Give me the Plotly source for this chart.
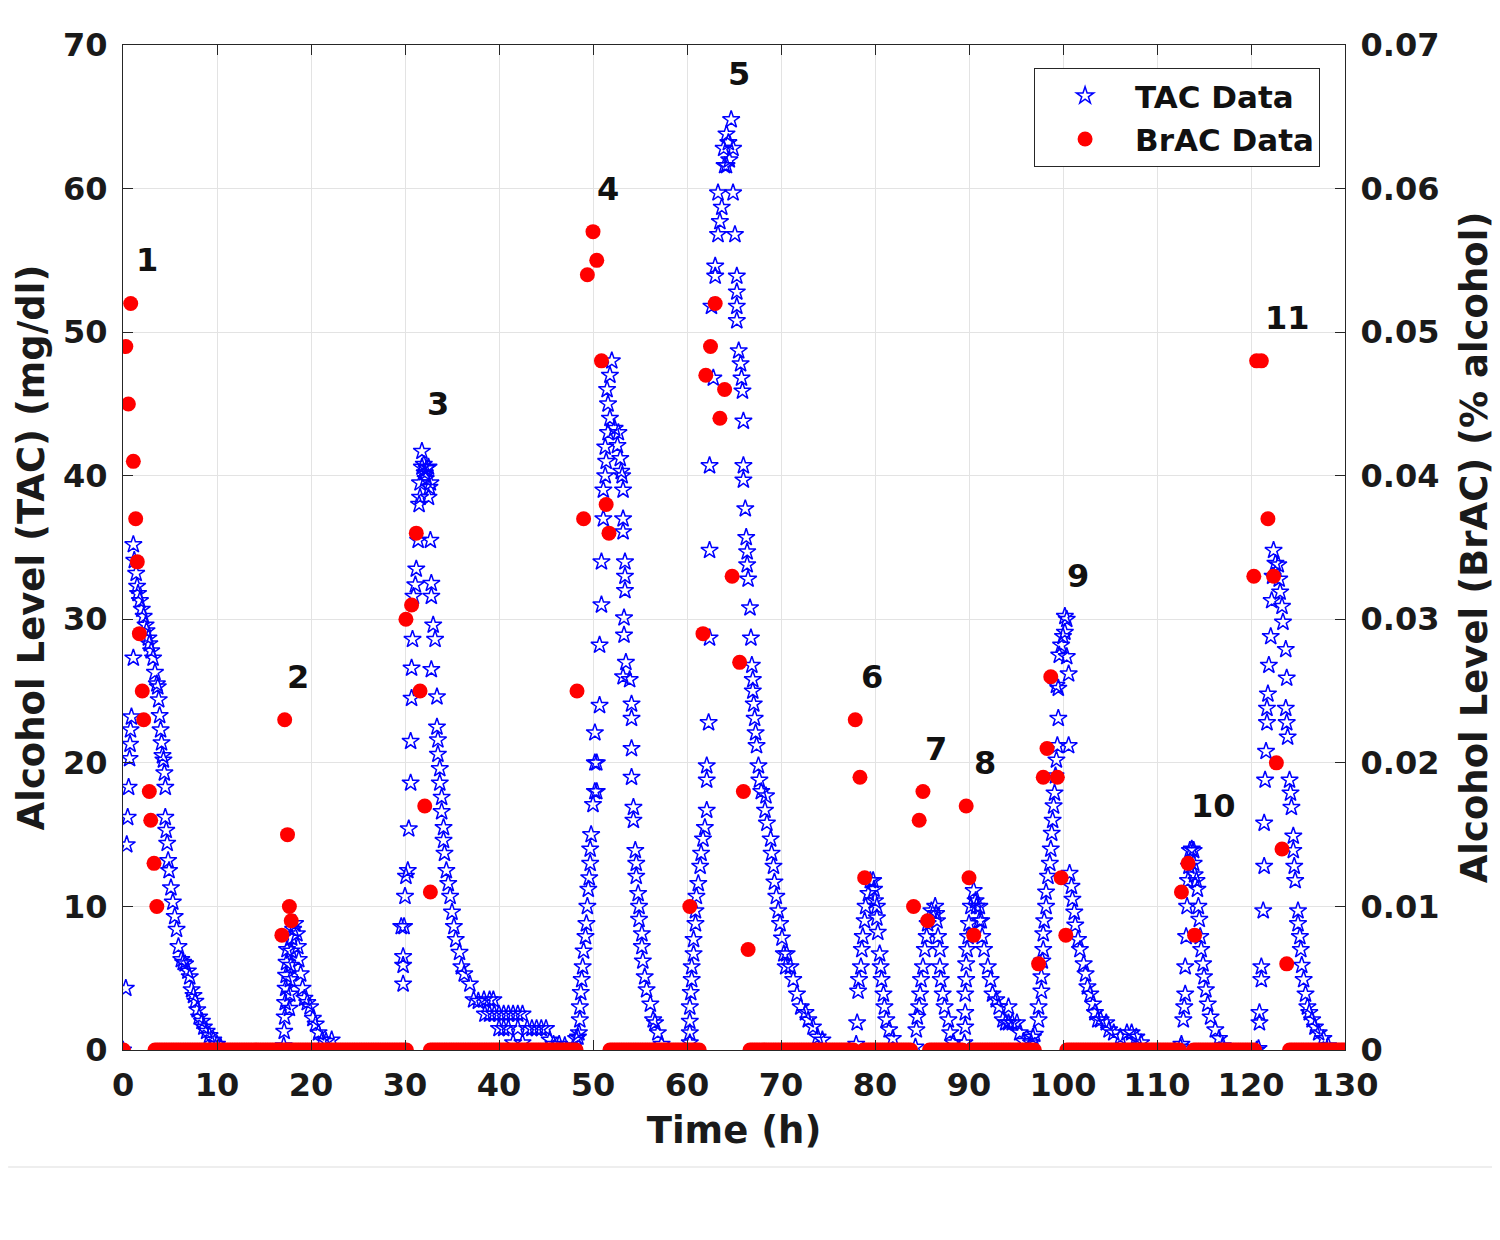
import numpy as np
import plotly.graph_objects as go

# ---------------- DATA ----------------
# TAC (mg/dl) readings, (time h, value) per drinking episode
tac_ep1 = [(0.0, 0.0), (0.3, 4.3), (0.4, 14.3), (0.5, 16.2), (0.6, 18.3), (0.7, 20.3), (0.75, 21.3),
           (0.8, 22.3), (0.9, 23.2), (1.1, 35.2), (1.1, 27.3), (1.2, 34.1), (1.4, 33.2), (1.5, 32.3),
           (1.6, 31.8), (1.8, 31.3), (2.0, 30.7), (2.2, 30.2), (2.4, 29.6), (2.5, 29.2), (2.7, 28.7),
           (2.8, 28.3), (3.0, 27.8), (3.2, 27.3), (3.4, 26.3), (3.6, 25.5), (3.7, 25.3), (3.8, 24.4),
           (3.9, 23.3), (4.0, 22.3), (4.1, 21.4), (4.2, 20.5), (4.3, 20.2), (4.4, 19.3), (4.5, 18.3),
           (4.5, 16.2), (4.6, 15.3), (4.7, 14.4), (4.8, 13.2), (4.9, 12.5), (5.1, 11.3), (5.3, 10.3),
           (5.5, 9.3), (5.7, 8.4), (5.9, 7.2), (6.2, 6.3), (6.4, 6.1), (6.6, 6.0), (6.9, 5.5),
           (7.1, 5.1), (7.3, 4.2), (7.5, 3.8), (7.7, 3.4), (7.9, 2.8), (8.1, 2.3), (8.4, 2.0),
           (8.6, 1.6), (8.9, 1.3), (9.2, 1.0), (9.6, 0.7), (10.0, 0.4), (10.4, 0.2)]
tac_ep2 = [(17.1, 0.3), (17.15, 1.3), (17.2, 2.3), (17.25, 3.3), (17.3, 4.3), (17.35, 5.2), (17.4, 6.1),
           (17.45, 7.0), (17.7, 2.9), (17.75, 3.9), (17.8, 4.9), (17.85, 5.9), (17.9, 6.9), (17.95, 7.8),
           (18.1, 8.4), (18.3, 8.8), (18.5, 8.1), (18.6, 7.2), (18.7, 6.3), (18.9, 5.3), (19.1, 4.3),
           (19.3, 3.6), (19.6, 3.3), (19.9, 3.0), (20.2, 2.2), (20.5, 1.8), (20.8, 1.2), (21.2, 0.7),
           (21.6, 0.6), (22.2, 0.7)]
tac_ep3 = [(29.6, 8.6), (29.8, 4.6), (29.8, 5.9), (29.8, 6.5), (29.9, 8.6), (30.0, 10.7), (30.1, 12.1),
           (30.3, 12.5), (30.4, 15.4), (30.6, 18.6), (30.6, 21.5), (30.7, 24.5), (30.7, 26.6),
           (30.8, 28.6), (30.9, 31.6), (31.1, 32.4), (31.2, 33.5), (31.4, 35.5), (31.5, 38.0),
           (31.6, 38.5), (31.6, 39.5), (31.8, 40.6), (31.8, 41.7), (32.0, 40.8), (32.1, 40.2),
           (32.2, 39.8), (32.3, 40.5), (32.5, 40.6), (32.5, 38.5), (32.6, 39.2), (32.7, 39.5),
           (32.7, 35.5), (32.8, 32.5), (32.8, 31.6), (33.0, 29.6), (33.2, 28.6), (32.8, 26.5),
           (33.4, 24.6), (33.4, 22.5), (33.5, 21.6), (33.5, 20.6), (33.7, 19.6), (33.7, 18.6),
           (33.9, 17.6), (33.9, 16.6), (34.1, 15.5), (34.1, 14.6), (34.2, 13.7), (34.4, 12.5),
           (34.6, 11.6), (34.8, 10.7), (35.0, 9.6), (35.2, 8.6), (35.4, 7.7), (35.8, 6.8), (36.0, 5.8),
           (36.3, 5.3), (36.9, 4.6), (37.3, 3.5), (37.8, 3.4), (38.4, 3.5), (39.0, 3.5), (39.4, 3.5),
           (38.5, 2.5), (39.0, 2.5), (39.5, 2.5), (40.0, 2.5), (40.5, 2.5), (41.0, 2.5), (41.5, 2.5),
           (42.0, 2.5), (42.5, 2.5), (40.0, 1.5), (40.5, 1.5), (41.0, 1.5), (42.0, 1.5), (43.0, 1.5),
           (43.5, 1.5), (44.0, 1.5), (44.5, 1.5), (45.0, 1.5), (41.5, 0.5), (42.5, 0.5), (45.4, 0.7),
           (45.8, 0.4), (46.4, 0.4), (47.0, 0.3)]
tac_ep4 = [(48.2, 0.8), (48.4, 0.9), (48.5, 1.2), (48.6, 2.1), (48.6, 3.0), (48.7, 4.0), (48.8, 4.9),
           (48.9, 5.8), (49.0, 6.9), (49.2, 7.9), (49.3, 8.8), (49.4, 10.0), (49.5, 11.2), (49.6, 12.0),
           (49.7, 13.0), (49.7, 14.0), (49.8, 15.0), (50.0, 17.1), (50.2, 18.0), (50.4, 18.0),
           (50.2, 20.0), (50.4, 20.0), (50.2, 22.1), (50.7, 24.0), (50.7, 28.2), (50.9, 31.0),
           (50.9, 34.0), (51.1, 37.0), (51.1, 39.0), (51.3, 40.0), (51.4, 41.0), (51.3, 42.0),
           (51.6, 43.0), (51.8, 44.0), (51.6, 45.0), (51.5, 46.0), (51.8, 47.0), (52.0, 48.0),
           (52.3, 43.3), (52.7, 43.0), (52.6, 42.1), (52.9, 41.2), (53.0, 40.3), (53.1, 40.0),
           (53.2, 39.0), (53.2, 37.0), (53.2, 36.1), (53.4, 34.0), (53.4, 33.0), (53.4, 32.0),
           (53.3, 30.1), (53.3, 28.9), (53.5, 27.0), (53.2, 26.0), (53.9, 25.8), (54.1, 24.1),
           (54.1, 23.1), (54.1, 21.0), (54.1, 19.0), (54.3, 16.9), (54.3, 16.0), (54.5, 13.9),
           (54.6, 13.0), (54.6, 12.1), (54.8, 10.9), (54.9, 10.0), (54.9, 9.1), (55.2, 8.1),
           (55.2, 7.2), (55.3, 6.2), (55.5, 5.1), (55.7, 4.2), (56.1, 3.2), (56.4, 2.1), (56.6, 1.9),
           (56.9, 1.2), (57.3, 0.4)]
tac_ep5 = [(60.3, 0.5), (60.3, 1.2), (60.3, 2.0), (60.3, 3.0), (60.4, 4.0), (60.5, 4.9), (60.5, 5.8),
           (60.7, 6.7), (60.7, 7.7), (60.9, 8.8), (60.9, 9.7), (61.0, 10.7), (61.2, 11.6), (61.4, 12.8),
           (61.5, 13.7), (61.7, 14.7), (61.9, 15.5), (62.1, 16.7), (62.1, 18.8), (62.1, 19.8),
           (62.3, 22.8), (62.4, 28.7), (62.4, 34.8), (62.4, 40.7), (62.8, 46.8), (62.6, 51.8),
           (63.0, 53.9), (63.0, 54.6), (63.3, 56.8), (63.5, 57.7), (63.7, 58.7), (63.3, 59.7),
           (64.9, 59.7), (65.1, 56.8), (64.2, 61.6), (64.0, 61.6), (63.9, 62.8), (64.9, 62.8),
           (64.2, 63.8), (64.7, 64.8), (64.4, 63.2), (64.5, 62.0), (65.3, 53.9), (65.3, 52.8),
           (65.3, 51.8), (65.3, 50.8), (65.5, 48.7), (65.7, 47.8), (65.8, 46.8), (65.9, 45.9),
           (66.0, 43.8), (66.0, 40.7), (66.0, 39.7), (66.2, 37.7), (66.3, 35.7), (66.4, 34.7),
           (66.4, 33.8), (66.5, 32.8), (66.7, 30.8), (66.8, 28.7), (66.9, 26.8), (67.0, 25.8),
           (67.0, 25.0), (67.1, 24.1), (67.2, 23.1), (67.3, 22.1), (67.4, 21.2), (67.6, 19.8),
           (67.7, 18.8), (67.9, 18.0), (68.4, 17.7), (68.3, 16.7), (68.5, 15.8), (68.9, 14.7),
           (69.0, 13.7), (69.2, 12.8), (69.3, 11.7), (69.5, 10.7), (69.7, 9.7), (69.9, 8.8),
           (70.1, 7.8), (70.3, 6.7), (70.6, 6.7), (70.5, 5.8), (71.0, 5.8), (71.3, 4.9), (71.7, 3.9),
           (72.1, 3.0), (72.6, 2.6), (72.9, 2.1), (73.4, 1.6), (73.9, 0.9), (74.4, 0.7)]
tac_ep6 = [(78.0, 0.4), (78.1, 1.9), (78.2, 4.1), (78.3, 4.9), (78.5, 5.8), (78.6, 7.0), (78.7, 7.9),
           (78.9, 9.0), (79.0, 10.0), (79.3, 10.9), (79.5, 11.8), (79.8, 11.8), (79.9, 11.2),
           (80.0, 10.4), (80.2, 10.0), (80.2, 9.2), (80.3, 8.2), (80.5, 6.7), (80.6, 5.8), (80.7, 4.9),
           (80.9, 3.9), (81.0, 3.0), (81.2, 2.1), (81.5, 1.4), (81.9, 0.8)]
tac_ep7 = [(84.3, 0.2), (84.4, 1.4), (84.5, 2.3), (84.7, 3.0), (84.8, 3.9), (84.9, 4.9), (85.1, 5.8),
           (85.3, 7.0), (85.5, 7.9), (85.6, 8.8), (86.0, 9.7), (86.4, 10.0), (86.5, 9.5), (86.6, 9.0),
           (86.7, 7.9), (86.9, 7.0), (86.9, 5.8), (87.0, 4.9), (87.2, 3.9), (87.4, 3.0), (87.8, 2.1),
           (88.0, 1.2), (88.3, 0.5)]
tac_ep8 = [(89.5, 0.5), (89.6, 1.6), (89.6, 2.6), (89.6, 3.9), (89.7, 4.9), (89.7, 6.0), (89.8, 7.0),
           (89.9, 7.9), (90.0, 8.8), (90.2, 10.0), (90.5, 11.1), (90.7, 10.4), (90.8, 10.0),
           (91.1, 10.0), (91.1, 9.0), (91.3, 9.0), (91.4, 7.9), (91.6, 7.0), (92.0, 5.8), (92.3, 4.9),
           (92.5, 3.9), (92.9, 3.5), (93.2, 3.0), (93.6, 2.1), (93.9, 1.9), (94.2, 1.9), (94.2, 3.0),
           (94.6, 1.9), (95.1, 1.9), (95.4, 1.2), (95.8, 0.6)]
tac_ep9 = [(96.6, 0.5), (96.8, 0.9), (97.0, 1.1), (97.4, 2.1), (97.4, 3.0), (97.7, 4.1), (97.7, 5.1),
           (97.8, 6.2), (97.9, 7.0), (97.9, 8.1), (98.0, 9.0), (98.2, 10.0), (98.2, 11.0), (98.4, 12.1),
           (98.6, 13.0), (98.7, 14.0), (98.8, 15.1), (98.9, 16.0), (99.0, 17.0), (99.1, 17.9),
           (99.2, 19.1), (99.3, 20.2), (99.4, 21.2), (99.5, 23.1), (99.5, 25.2), (99.3, 25.4),
           (99.6, 27.5), (99.8, 28.2), (100.0, 28.8), (100.2, 29.1), (100.2, 30.2), (100.4, 30.0),
           (100.4, 27.4), (100.6, 26.2), (100.6, 21.2), (100.7, 12.3), (100.9, 11.4), (101.0, 10.5),
           (101.2, 9.6), (101.3, 8.7), (101.6, 7.7), (101.8, 7.0), (102.2, 6.0), (102.4, 5.3),
           (102.6, 4.4), (102.9, 3.9), (103.2, 3.2), (103.4, 2.6), (103.7, 2.1), (104.0, 2.1),
           (104.6, 1.9), (104.9, 1.4), (105.4, 1.2), (106.1, 0.9), (106.8, 1.2), (107.3, 1.2),
           (107.8, 0.9), (108.3, 0.5)]
tac_ep10 = [(112.5, 0.2), (112.6, 0.4), (112.8, 2.1), (112.9, 3.0), (113.0, 3.9), (113.0, 5.8),
            (113.1, 7.9), (113.2, 10.0), (113.3, 11.8), (113.4, 12.8), (113.5, 13.9), (113.7, 14.0),
            (113.9, 13.9), (113.9, 13.0), (114.0, 12.2), (114.2, 11.8), (114.3, 11.2), (114.4, 10.0),
            (114.5, 9.1), (114.6, 7.9), (114.7, 7.0), (114.9, 6.0), (115.0, 5.1), (115.2, 4.2),
            (115.4, 3.2), (115.7, 2.3), (116.2, 1.4), (116.6, 0.8), (117.0, 0.3)]
tac_ep11 = [(120.6, 0.0), (120.8, 0.1), (120.9, 1.9), (120.9, 2.6), (121.1, 4.9), (121.1, 5.8),
            (121.3, 9.7), (121.4, 12.8), (121.4, 15.8), (121.5, 18.8), (121.6, 20.8), (121.7, 22.8),
            (121.7, 23.8), (121.8, 24.8), (121.9, 26.8), (122.1, 28.8), (122.2, 31.3), (122.3, 33.0),
            (122.4, 34.8), (122.6, 33.9), (122.9, 33.8), (123.0, 32.8), (123.1, 31.9), (123.3, 30.9),
            (123.4, 29.8), (123.7, 27.9), (123.8, 25.9), (123.7, 23.8), (123.8, 22.8), (123.9, 21.8),
            (124.1, 18.8), (124.2, 17.9), (124.3, 16.9), (124.5, 14.9), (124.5, 13.9), (124.6, 12.8),
            (124.7, 11.8), (125.0, 9.7), (125.0, 8.8), (125.2, 7.9), (125.3, 7.0), (125.4, 5.9),
            (125.6, 4.9), (125.8, 3.9), (126.0, 3.0), (126.2, 2.6), (126.5, 2.1), (126.8, 1.6),
            (127.2, 1.2), (127.7, 0.8), (128.2, 0.3)]

# BrAC (% alcohol) readings
brac_time = [0.05, 0.3, 0.57, 0.82, 1.1, 1.35, 1.52, 1.74, 2.05, 2.2, 2.8, 2.95, 3.3, 3.6,
             16.9, 17.2, 17.5, 17.7, 17.9,
             30.1, 30.7, 31.2, 31.6, 32.1, 32.7,
             48.3, 49.0, 49.4, 50.0, 50.4, 50.9, 51.4, 51.7,
             60.3, 61.7, 62.0, 62.5, 63.0, 63.5, 64.0, 64.8, 65.6, 66.0, 66.5,
             77.9, 78.4, 78.9,
             84.1, 84.7, 85.1, 85.6,
             89.7, 90.0, 90.5,
             97.4, 97.9, 98.3, 98.7, 99.4, 99.8, 100.3,
             112.6, 113.3, 114.0,
             120.3, 120.6, 121.1, 121.8, 122.4, 122.7, 123.3, 123.8]
brac_pct = [0.0, 0.049, 0.045, 0.052, 0.041, 0.037, 0.034, 0.029, 0.025, 0.023, 0.018, 0.016, 0.013, 0.010,
            0.008, 0.023, 0.015, 0.010, 0.009,
            0.030, 0.031, 0.036, 0.025, 0.017, 0.011,
            0.025, 0.037, 0.054, 0.057, 0.055, 0.048, 0.038, 0.036,
            0.010, 0.029, 0.047, 0.049, 0.052, 0.044, 0.046, 0.033, 0.027, 0.018, 0.007,
            0.023, 0.019, 0.012,
            0.010, 0.016, 0.018, 0.009,
            0.017, 0.012, 0.008,
            0.006, 0.019, 0.021, 0.026, 0.019, 0.012, 0.008,
            0.011, 0.013, 0.008,
            0.033, 0.048, 0.048, 0.037, 0.033, 0.020, 0.014, 0.006]
# periods where the breathalyzer read zero (start h, end h), sampled every brac_step_h
brac_zero_runs = [(3.4, 30.2), (32.7, 48.4), (51.8, 61.4), (66.7, 77.9), (78.8, 84.0), (85.8, 89.4),
                  (90.2, 97.0), (100.4, 112.6), (113.9, 120.6), (124.1, 130.0)]
brac_step_h = 0.25

episode_labels = ["1", "2", "3", "4", "5", "6", "7", "8", "9", "10", "11"]
episode_label_t = [2.55, 18.6, 33.5, 51.6, 65.5, 79.7, 86.5, 91.7, 101.6, 116.0, 123.9]
episode_label_v = [55.0, 26.0, 45.0, 60.0, 68.0, 26.0, 21.0, 20.0, 33.0, 17.0, 51.0]

x_ticks = [0, 10, 20, 30, 40, 50, 60, 70, 80, 90, 100, 110, 120, 130]
y_ticks = [0, 10, 20, 30, 40, 50, 60, 70]
y2_ticks = [0, 0.01, 0.02, 0.03, 0.04, 0.05, 0.06, 0.07]
y2_tick_labels = ["0", "0.01", "0.02", "0.03", "0.04", "0.05", "0.06", "0.07"]

# ---------------- BUILD ----------------
tac_episodes = [tac_ep1, tac_ep2, tac_ep3, tac_ep4, tac_ep5, tac_ep6,
                tac_ep7, tac_ep8, tac_ep9, tac_ep10, tac_ep11]
tac_t = [p[0] for ep in tac_episodes for p in ep]
tac_v = [p[1] for ep in tac_episodes for p in ep]

zero_t = np.concatenate([np.arange(a, b + 1e-9, brac_step_h) for a, b in brac_zero_runs])
all_brac_t = list(brac_time) + zero_t.tolist()
all_brac_v = list(brac_pct) + [0.0] * len(zero_t)

FONT = "DejaVu Sans"
AX = "#262626"
GRID = "#e3e3e3"

fig = go.Figure()
fig.add_trace(go.Scatter(
    x=tac_t, y=tac_v, mode="markers", name="TAC Data",
    marker=dict(symbol="star-open", size=13, color="#0000ff", line=dict(width=1.5, color="#0000ff")),
))
fig.add_trace(go.Scatter(
    x=all_brac_t, y=all_brac_v, mode="markers", name="BrAC Data", yaxis="y2",
    marker=dict(symbol="circle", size=15, color="#ff0000", line=dict(width=0)),
))

for lab, t, v in zip(episode_labels, episode_label_t, episode_label_v):
    fig.add_annotation(x=t, y=v, text=lab, showarrow=False, xref="x", yref="y",
                       font=dict(family=FONT, size=32, color="#111111", weight="bold"))

tickfont = dict(family=FONT, size=32, color="#1a1a1a", weight="bold")
titlefont = dict(family=FONT, size=37, color="#1a1a1a", weight="bold")

fig.update_layout(
    width=1492, height=1232,
    margin=dict(l=115, r=155, t=37, b=190, autoexpand=False),
    paper_bgcolor="white", plot_bgcolor="white",
    font=dict(family=FONT, weight="bold"),
    showlegend=True,
    legend=dict(
        x=0.9796, y=0.977, xanchor="right", yanchor="top",
        bgcolor="white", bordercolor=AX, borderwidth=1,
        font=dict(family=FONT, size=31, color="#111111", weight="bold"),
        itemwidth=90, tracegroupgap=0,
    ),
    xaxis=dict(
        range=[0, 130], tickvals=x_ticks, ticks="inside", ticklen=10, tickwidth=1.2,
        tickcolor=AX, showline=True, linecolor=AX, linewidth=1.2, mirror="ticks",
        showgrid=True, gridcolor=GRID, gridwidth=1, zeroline=False,
        tickfont=tickfont, ticklabelstandoff=6, automargin=False,
        title=dict(text="Time (h)", font=titlefont, standoff=14),
    ),
    yaxis=dict(
        range=[0, 70], tickvals=y_ticks, ticks="inside", ticklen=10, tickwidth=1.2,
        tickcolor=AX, showline=True, linecolor=AX, linewidth=1.2,
        showgrid=True, gridcolor=GRID, gridwidth=1, zeroline=False,
        tickfont=tickfont, ticklabelstandoff=8, automargin=False,
        title=dict(text="Alcohol Level (TAC) (mg/dl)", font=titlefont, standoff=7),
    ),
    yaxis2=dict(
        range=[0, 0.07], tickvals=y2_ticks, ticktext=y2_tick_labels, overlaying="y", side="right",
        ticks="inside", ticklen=10, tickwidth=1.2, tickcolor=AX,
        showline=True, linecolor=AX, linewidth=1.2, showgrid=False, zeroline=False,
        tickfont=tickfont, ticklabelstandoff=8, automargin=False,
        title=dict(text="Alcohol Level (BrAC) (% alcohol)", font=titlefont, standoff=22),
    ),
)

# faint frame of the original figure image
fig.add_shape(type="line", xref="paper", yref="paper", x0=1.1228, x1=1.1228, y0=-0.1164, y1=1.04,
              line=dict(color="#e8e8e8", width=2))
fig.add_shape(type="line", xref="paper", yref="paper", x0=-0.094, x1=1.1228, y0=-0.1164, y1=-0.1164,
              line=dict(color="#eeeeee", width=2))

fig.write_html("out.html")
